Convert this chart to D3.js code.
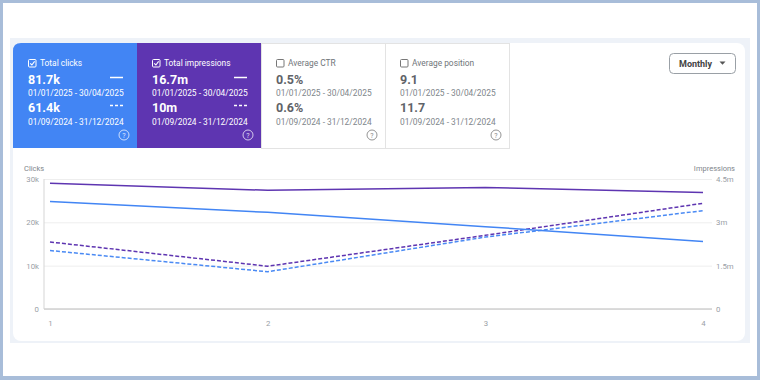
<!DOCTYPE html>
<html><head><meta charset="utf-8">
<script src="https://cdn.jsdelivr.net/npm/d3@7"></script>
<style>
html,body{margin:0;padding:0;background:#fff;}
svg{display:block;font-family:Roboto,"Noto Sans",Arial,sans-serif;}
</style></head>
<body><div id="chart"></div>
<script>
const periods = [1, 2, 3, 4];
const clicksCurrent = [24800, 22300, 19000, 15600];
const clicksPrevious = [13500, 8600, 16600, 22700];
const imprCurrent = [4350000, 4110000, 4210000, 4030000];
const imprPrevious = [2320000, 1480000, 2550000, 3660000];
const clickTicks = [0, 10000, 20000, 30000];
const imprTicks = [0, 1500000, 3000000, 4500000];
const tiles = [
  {label: "Total clicks", cur: "81.7k", prev: "61.4k", checked: true, bg: "#4285f4"},
  {label: "Total impressions", cur: "16.7m", prev: "10m", checked: true, bg: "#5e35b1"},
  {label: "Average CTR", cur: "0.5%", prev: "0.6%", checked: false, bg: "#fff"},
  {label: "Average position", cur: "9.1", prev: "11.7", checked: false, bg: "#fff"}
];
const curRange = "01/01/2025 - 30/04/2025";
const prevRange = "01/09/2024 - 31/12/2024";

const W = 760, H = 380;
const svg = d3.select("#chart").append("svg").attr("width", W).attr("height", H);

// frame
svg.append("rect").attr("x", 0).attr("y", 0).attr("width", W).attr("height", H).attr("fill", "#a8bdd9");
svg.append("rect").attr("x", 3).attr("y", 3).attr("width", W - 6).attr("height", H - 7).attr("fill", "#fff");
svg.append("rect").attr("x", 10).attr("y", 38).attr("width", 740).attr("height", 305).attr("fill", "#eef2f8");
svg.append("rect").attr("x", 13).attr("y", 43).attr("width", 732).attr("height", 298).attr("rx", 8).attr("fill", "#fff");

// tiles
const tileW = 124, tx0 = 13, ty0 = 43, tH = 105;
tiles.forEach((t, i) => {
  const x0 = tx0 + i * tileW;
  const g = svg.append("g").attr("transform", `translate(${x0},${ty0})`);
  const colored = t.bg !== "#fff";
  if (i === 0) {
    g.append("path").attr("d", `M0,${tH} V8 Q0,0 8,0 H${tileW + 1} V${tH} Z`).attr("fill", t.bg);
  } else if (colored) {
    g.append("rect").attr("width", tileW + 1).attr("height", tH).attr("fill", t.bg);
  } else {
    g.append("rect").attr("x", 0.5).attr("y", 0.5).attr("width", tileW).attr("height", tH).attr("fill", "#fff").attr("stroke", "#e3e3e3");
  }
  const fg = colored ? "#fff" : "#5f6368";
  const fgLabel = colored ? "#fff" : "#70757a";
  const fgDate = colored ? "#fff" : "#80868b";
  // checkbox
  g.append("rect").attr("x", 15.5).attr("y", 16.5).attr("width", 7.5).attr("height", 7.5).attr("rx", 1)
    .attr("fill", "none").attr("stroke", colored ? "#fff" : "#777").attr("stroke-width", 1);
  if (t.checked) {
    g.append("path").attr("d", "M17.2,20.3 L18.9,22 L21.6,18.4").attr("fill", "none").attr("stroke", "#fff").attr("stroke-width", 1.1);
  }
  g.append("text").attr("x", 27).attr("y", 23).attr("font-size", 8.4).attr("fill", fgLabel).text(t.label);
  g.append("text").attr("x", 15).attr("y", 41).attr("font-size", 12.5).attr("font-weight", "bold").attr("fill", fg).text(t.cur);
  g.append("text").attr("x", 15).attr("y", 52.5).attr("font-size", 8.4).attr("fill", fgDate).text(curRange);
  g.append("text").attr("x", 15).attr("y", 69).attr("font-size", 12.5).attr("font-weight", "bold").attr("fill", fg).text(t.prev);
  g.append("text").attr("x", 15).attr("y", 81.5).attr("font-size", 8.4).attr("fill", fgDate).text(prevRange);
  if (colored) {
    g.append("line").attr("x1", 97).attr("x2", 110).attr("y1", 34.5).attr("y2", 34.5).attr("stroke", "#fff").attr("stroke-width", 1.5);
    g.append("line").attr("x1", 97).attr("x2", 110).attr("y1", 62.5).attr("y2", 62.5).attr("stroke", "#fff").attr("stroke-width", 1.5).attr("stroke-dasharray", "3,2");
  }
  // help icon
  g.append("circle").attr("cx", 111).attr("cy", 92).attr("r", 5).attr("fill", "none").attr("stroke", colored ? "rgba(255,255,255,0.8)" : "#888").attr("stroke-width", 0.9);
  g.append("text").attr("x", 111).attr("y", 94.8).attr("text-anchor", "middle").attr("font-size", 7).attr("fill", colored ? "rgba(255,255,255,0.85)" : "#888").text("?");
});

// Monthly button
svg.append("rect").attr("x", 669.5).attr("y", 53.5).attr("width", 66).attr("height", 20).attr("rx", 4).attr("fill", "#fff").attr("stroke", "#9aa0a6");
svg.append("text").attr("x", 679).attr("y", 66.5).attr("font-size", 9).attr("font-weight", "bold").attr("fill", "#444").text("Monthly");
svg.append("path").attr("d", "M719.5,61.5 L725.5,61.5 L722.5,64.8 Z").attr("fill", "#555");

// chart
const x = d3.scalePoint().domain(periods).range([50, 703]);
const yL = d3.scaleLinear().domain([0, 30000]).range([309, 179]);
const yR = d3.scaleLinear().domain([0, 4500000]).range([309, 179]);

const gridG = svg.append("g").attr("transform", "translate(44,0)")
  .call(d3.axisLeft(yL).tickValues(clickTicks).tickSize(-668).tickPadding(5)
    .tickFormat(d => d === 0 ? "0" : (d / 1000) + "k"));
gridG.select(".domain").remove();
gridG.selectAll(".tick line").attr("stroke", "#eeeeee");
gridG.selectAll(".tick text").attr("fill", "#9aa0a6").attr("font-size", 7.8).attr("font-family", "Roboto,sans-serif");

const rG = svg.append("g").attr("transform", "translate(712,0)")
  .call(d3.axisRight(yR).tickValues(imprTicks).tickSize(0).tickPadding(4)
    .tickFormat(d => d === 0 ? "0" : (d / 1e6) + "m"));
rG.select(".domain").remove();
rG.selectAll(".tick text").attr("fill", "#9aa0a6").attr("font-size", 7.8).attr("font-family", "Roboto,sans-serif");

// axis lines
svg.append("line").attr("x1", 44).attr("x2", 44).attr("y1", 179).attr("y2", 309).attr("stroke", "#d5d5d5").attr("stroke-width", 1);
svg.append("line").attr("x1", 44).attr("x2", 712).attr("y1", 309).attr("y2", 309).attr("stroke", "#d0d0d0").attr("stroke-width", 1.5);

const xG = svg.append("g").attr("transform", "translate(0,318)")
  .call(d3.axisBottom(x).tickSize(0).tickPadding(2));
xG.select(".domain").remove();
xG.selectAll(".tick text").attr("fill", "#9aa0a6").attr("font-size", 7.8).attr("font-family", "Roboto,sans-serif");

svg.append("text").attr("x", 24).attr("y", 171).attr("font-size", 7.5).attr("fill", "#80868b").text("Clicks");
svg.append("text").attr("x", 735).attr("y", 171).attr("text-anchor", "end").attr("font-size", 7.5).attr("fill", "#80868b").text("Impressions");

const lineL = d3.line().x((d, i) => x(periods[i])).y(d => yL(d));
const lineR = d3.line().x((d, i) => x(periods[i])).y(d => yR(d));

svg.append("path").datum(imprPrevious).attr("d", lineR).attr("fill", "none").attr("stroke", "#5e35b1").attr("stroke-width", 1.5).attr("stroke-dasharray", "4,2");
svg.append("path").datum(clicksPrevious).attr("d", lineL).attr("fill", "none").attr("stroke", "#4a8af4").attr("stroke-width", 1.5).attr("stroke-dasharray", "4,2");
svg.append("path").datum(clicksCurrent).attr("d", lineL).attr("fill", "none").attr("stroke", "#4285f4").attr("stroke-width", 1.5);
svg.append("path").datum(imprCurrent).attr("d", lineR).attr("fill", "none").attr("stroke", "#5e35b1").attr("stroke-width", 1.5);
</script></body></html>
